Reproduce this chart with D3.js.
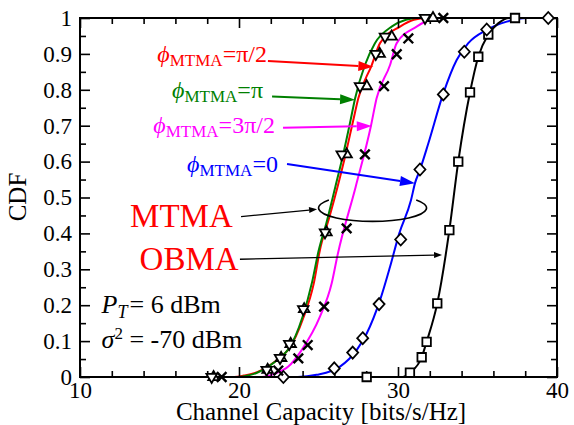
<!DOCTYPE html>
<html>
<head>
<meta charset="utf-8">
<script src="https://cdn.jsdelivr.net/npm/d3@7"></script>
<style>
  body { margin: 0; background: #fff; }
  text { font-family: "Liberation Serif", "Times New Roman", serif; }
</style>
</head>
<body>
<svg id="chart" width="574" height="425"></svg>
<script>
// ---- data ----
var xTicks = [10, 20, 30, 40];
var xMinor = [12, 14, 16, 18, 22, 24, 26, 28, 32, 34, 36, 38];
var yTicks = [0, 0.1, 0.2, 0.3, 0.4, 0.5, 0.6, 0.7, 0.8, 0.9, 1];
var yTickLabels = ["0", "0.1", "0.2", "0.3", "0.4", "0.5", "0.6", "0.7", "0.8", "0.9", "1"];
var yMinor = [0.05, 0.15, 0.25, 0.35, 0.45, 0.55, 0.65, 0.75, 0.85, 0.95];

// analytical curves [capacity, CDF]
var linePi2 = [[10,0],[19.7,0],[20.3,0.004],[21.1,0.013],[21.85,0.03],[22.6,0.055],[23.1,0.076],[24.05,0.165],[24.7,0.26],[25.09,0.354],[25.65,0.44],[26.2,0.53],[26.65,0.61],[27.19,0.716],[27.5,0.776],[28.35,0.869],[28.87,0.93],[30.13,0.976],[31.0,0.995],[31.8,1],[40,1]];
var linePi = [[10,0],[19.9,0],[20.4,0.003],[21.1,0.011],[21.85,0.029],[22.6,0.055],[23.1,0.077],[24.0,0.168],[24.6,0.265],[25.0,0.35],[25.5,0.43],[26.06,0.53],[26.5,0.61],[27.02,0.716],[27.3,0.776],[27.92,0.869],[28.55,0.93],[29.6,0.976],[30.5,0.995],[31.2,1],[40,1]];
var line3Pi2 = [[10,0],[21.3,0],[21.6,0.001],[22.3,0.01],[23.1,0.029],[23.94,0.075],[25.09,0.168],[25.83,0.261],[26.2,0.34],[27.34,0.53],[28.3,0.7],[28.65,0.776],[29.5,0.869],[29.92,0.93],[31.17,0.976],[32.0,0.995],[32.6,1],[40,1]];
var line0 = [[10,0],[23.7,0],[24.88,0.006],[26.35,0.029],[27.4,0.075],[28.03,0.121],[28.87,0.214],[29.5,0.307],[30.08,0.4],[30.82,0.493],[31.07,0.54],[31.38,0.577],[31.91,0.651],[32.85,0.79],[33.69,0.883],[34.42,0.93],[35.58,0.967],[36.84,0.99],[38.1,1],[40,1]];
var lineObma = [[10,0],[30.3,0],[30.75,0.012],[31.49,0.055],[31.8,0.098],[32.47,0.205],[33.23,0.409],[33.79,0.6],[34.53,0.793],[35.05,0.892],[35.68,0.954],[36.3,0.985],[37.0,1],[40,1]];

// simulated points
var simPi = [[18.28,0],[21.74,0.02],[22.58,0.053],[23.16,0.092],[24.04,0.189],[25.41,0.403],[26.46,0.62],[27.61,0.81],[28.6,0.9],[29.18,0.948],[31.7,1]];
var simPi2 = [[18.4,0],[21.8,0.02],[22.65,0.053],[23.25,0.092],[24.1,0.189],[25.5,0.403],[26.77,0.62],[28.03,0.81],[28.85,0.9],[29.6,0.948],[32.2,1]];
var sim3Pi2 = [[18.91,0],[22.47,0.018],[23.73,0.052],[24.32,0.089],[25.35,0.196],[26.77,0.414],[27.92,0.62],[29.12,0.81],[29.92,0.899],[30.65,0.943],[32.85,1]];
var sim0 = [[22.79,0],[25.99,0.024],[27.15,0.068],[27.78,0.108],[28.81,0.203],[30.17,0.383],[31.38,0.578],[32.85,0.787],[34.17,0.906],[35.58,0.968],[39.45,1]];
var simObma = [[28.03,0],[30.75,0.012],[31.49,0.055],[31.8,0.098],[32.47,0.205],[33.23,0.409],[33.79,0.6],[34.53,0.793],[35.05,0.892],[35.68,0.954],[37.36,1]];

var svg = d3.select("#chart");
var x = d3.scaleLinear().domain([10, 40]).range([80, 557]);
var y = d3.scaleLinear().domain([0, 1]).range([377, 18]);

// curves
var line = d3.line().x(function(d){ return x(d[0]); }).y(function(d){ return y(d[1]); }).curve(d3.curveMonotoneX);
var curves = [
  {data: line0, color: "#0000ff"},
  {data: line3Pi2, color: "#ff00ff"},
  {data: linePi2, color: "#ff0000"},
  {data: linePi, color: "#008000"},
  {data: lineObma, color: "#000000"}
];
curves.forEach(function(c) {
  svg.append("path").attr("d", line(c.data)).attr("fill", "none")
    .attr("stroke", c.color).attr("stroke-width", 2);
});

// axes (ticks pointing in, on all four sides)
function styleAxis(g) {
  g.select(".domain").remove();
  g.selectAll("line").attr("stroke", "#000").attr("stroke-width", 1.6);
  g.selectAll("text").attr("font-size", 23).attr("fill", "#000")
    .style("font-family", '"Liberation Serif", serif');
}
svg.append("g").attr("transform", "translate(0,377)")
  .call(d3.axisBottom(x).tickValues(xTicks).tickSize(-10).tickPadding(5).tickFormat(d3.format("d"))).call(styleAxis);
svg.append("g").attr("transform", "translate(0,377)")
  .call(d3.axisBottom(x).tickValues(xMinor).tickSize(-6).tickFormat("")).call(styleAxis);
svg.append("g").attr("transform", "translate(0,18)")
  .call(d3.axisTop(x).tickValues(xTicks).tickSize(-10).tickFormat("")).call(styleAxis);
svg.append("g").attr("transform", "translate(0,18)")
  .call(d3.axisTop(x).tickValues(xMinor).tickSize(-6).tickFormat("")).call(styleAxis);
svg.append("g").attr("transform", "translate(80,0)")
  .call(d3.axisLeft(y).tickValues(yTicks).tickSize(-10).tickPadding(8)
    .tickFormat(function(d, i){ return yTickLabels[i]; })).call(styleAxis);
svg.append("g").attr("transform", "translate(80,0)")
  .call(d3.axisLeft(y).tickValues(yMinor).tickSize(-6).tickFormat("")).call(styleAxis);
svg.append("g").attr("transform", "translate(557,0)")
  .call(d3.axisRight(y).tickValues(yTicks).tickSize(-10).tickFormat("")).call(styleAxis);
svg.append("g").attr("transform", "translate(557,0)")
  .call(d3.axisRight(y).tickValues(yMinor).tickSize(-6).tickFormat("")).call(styleAxis);
svg.append("rect").attr("x", 80).attr("y", 18).attr("width", 477).attr("height", 359)
  .attr("fill", "none").attr("stroke", "#000").attr("stroke-width", 2);

// axis titles
svg.append("text").attr("x", 321).attr("y", 420).attr("text-anchor", "middle")
  .attr("font-size", 25).text("Channel Capacity [bits/s/Hz]");
svg.append("text").attr("transform", "translate(26,197) rotate(-90)").attr("text-anchor", "middle")
  .attr("font-size", 25).text("CDF");

// markers
function triUp(a) { var h = a * Math.sqrt(3) / 2; return "M0," + (-2*h/3) + "L" + (a/2) + "," + (h/3) + "L" + (-a/2) + "," + (h/3) + "Z"; }
function triDown(a) { var h = a * Math.sqrt(3) / 2; return "M0," + (2*h/3) + "L" + (a/2) + "," + (-h/3) + "L" + (-a/2) + "," + (-h/3) + "Z"; }
function diamond(w, h) { return "M0," + (-h) + "L" + w + ",0L0," + h + "L" + (-w) + ",0Z"; }
function square(s) { return "M" + (-s/2) + "," + (-s/2) + "h" + s + "v" + s + "h" + (-s) + "Z"; }
function cross(s) { return "M" + (-s) + "," + (-s) + "L" + s + "," + s + "M" + (-s) + "," + s + "L" + s + "," + (-s); }

var markerSets = [
  {data: simObma, path: square(8.5), sw: 1.8},
  {data: sim0, path: diamond(5.5, 6), sw: 1.8},
  {data: sim3Pi2, path: cross(4.8), sw: 2.4},
  {data: simPi2, path: triUp(10.5), sw: 1.8},
  {data: simPi, path: triDown(10.5), sw: 1.8}
];
markerSets.forEach(function(m) {
  svg.append("g").selectAll("path").data(m.data).join("path")
    .attr("transform", function(d){ return "translate(" + x(d[0]) + "," + y(d[1]) + ")"; })
    .attr("d", m.path).attr("fill", "#fff").attr("stroke", "#000").attr("stroke-width", m.sw);
});

// annotations (positions in data units)
function arrow(x0, y0, x1, y1, color, width, headLen, headW) {
  var px0 = x(x0), py0 = y(y0), px1 = x(x1), py1 = y(y1);
  var ang = Math.atan2(py1 - py0, px1 - px0);
  var bx = px1 - headLen * Math.cos(ang), by = py1 - headLen * Math.sin(ang);
  svg.append("line").attr("x1", px0).attr("y1", py0).attr("x2", bx).attr("y2", by)
    .attr("stroke", color).attr("stroke-width", width);
  var nx = -Math.sin(ang) * headW / 2, ny = Math.cos(ang) * headW / 2;
  svg.append("path").attr("d", "M" + px1 + "," + py1 + "L" + (bx + nx) + "," + (by + ny) + "L" + (bx - nx) + "," + (by - ny) + "Z")
    .attr("fill", color);
}
function phiLabel(xe, yb, color, rhs) {
  var t = svg.append("text").attr("x", x(xe)).attr("y", y(yb)).attr("fill", color)
    .attr("text-anchor", "end").attr("font-size", 24);
  t.append("tspan").attr("font-style", "italic").text("\u03D5");
  t.append("tspan").attr("font-size", 17).attr("dy", 4).text("MTMA");
  t.append("tspan").attr("dy", -4).text("=" + rhs);
}
phiLabel(21.76, 0.878, "#ff0000", "\u03C0/2");
arrow(21.82, 0.880, 28.45, 0.864, "#ff0000", 2, 15, 10);
phiLabel(21.51, 0.777, "#008000", "\u03C0");
arrow(22.08, 0.781, 27.30, 0.772, "#008000", 2, 15, 10);
phiLabel(22.26, 0.679, "#ff00ff", "3\u03C0/2");
arrow(22.77, 0.694, 28.35, 0.699, "#ff00ff", 2, 15, 10);
phiLabel(22.45, 0.572, "#0000ff", "0");
arrow(23.02, 0.593, 31.07, 0.540, "#0000ff", 2, 15, 10);

svg.append("text").attr("x", x(16.38)).attr("y", y(0.418)).attr("text-anchor", "middle")
  .attr("fill", "#ff0000").attr("font-size", 33).text("MTMA");
svg.append("text").attr("x", x(16.86)).attr("y", y(0.298)).attr("text-anchor", "middle")
  .attr("fill", "#ff0000").attr("font-size", 33).text("OBMA");
arrow(20.13, 0.447, 24.91, 0.467, "#000", 1.3, 8, 6);
arrow(20.06, 0.328, 32.77, 0.340, "#000", 1.3, 8, 6);

// open ellipse grouping the MTMA curves
var ecx = x(28.40), ecy = y(0.471), erx = 54, ery = 13.5;
var a0 = -0.8 * Math.PI, a1 = -0.2 * Math.PI;
svg.append("path")
  .attr("d", "M" + (ecx + erx * Math.cos(a0)) + "," + (ecy + ery * Math.sin(a0)) +
    "A" + erx + "," + ery + " 0 1 0 " + (ecx + erx * Math.cos(a1)) + "," + (ecy + ery * Math.sin(a1)))
  .attr("fill", "none").attr("stroke", "#000").attr("stroke-width", 1.6);

// parameter text
var p = svg.append("text").attr("x", x(11.36)).attr("y", y(0.178)).attr("font-size", 26);
p.append("tspan").attr("font-style", "italic").text("P");
p.append("tspan").attr("font-style", "italic").attr("font-size", 18).attr("dy", 5).text("T");
p.append("tspan").attr("dy", -5).attr("dx", 2).text("= 6 dBm");
var s = svg.append("text").attr("x", x(11.36)).attr("y", y(0.081)).attr("font-size", 26);
s.append("tspan").attr("font-style", "italic").text("\u03C3");
s.append("tspan").attr("font-size", 17).attr("dy", -9).text("2");
s.append("tspan").attr("dy", 9).text(" = -70 dBm");
</script>
</body>
</html>
